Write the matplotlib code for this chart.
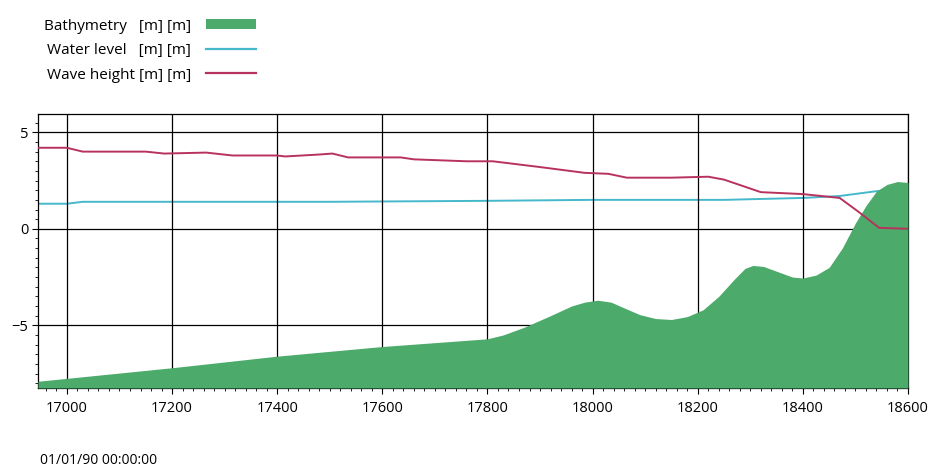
import matplotlib
matplotlib.use("Agg")
import matplotlib.pyplot as plt
from matplotlib.patches import Patch
from matplotlib.lines import Line2D
from matplotlib.ticker import MultipleLocator

plt.rcParams["font.family"] = ["Open Sans", "DejaVu Sans"]

# ── data ─────────────────────────────────────────────────────
bathy_x = [16945, 17000, 17200, 17400, 17600, 17800, 17830, 17870, 17920,
           17960, 17985, 18010, 18035, 18060, 18090, 18120, 18150, 18180,
           18210, 18240, 18270, 18290, 18305, 18325, 18350, 18380, 18400,
           18425, 18450, 18475, 18500, 18520, 18540, 18560, 18580, 18600]
bathy_z = [-7.9, -7.75, -7.2, -6.6, -6.1, -5.7, -5.5, -5.1, -4.5,
           -4.0, -3.8, -3.7, -3.8, -4.1, -4.45, -4.65, -4.7, -4.55,
           -4.2, -3.5, -2.6, -2.05, -1.9, -1.95, -2.2, -2.5, -2.55,
           -2.4, -2.0, -1.0, 0.3, 1.2, 1.95, 2.3, 2.45, 2.4]

water_x = [16945, 17000, 17030, 17500, 17800, 18000, 18250, 18400, 18470,
           18540, 18600]
water_z = [1.3, 1.3, 1.4, 1.4, 1.45, 1.5, 1.5, 1.6, 1.7, 1.95, 2.1]

wave_x = [16945, 17000, 17030, 17150, 17185, 17265, 17315, 17400, 17415,
          17480, 17505, 17535, 17635, 17660, 17760, 17810, 17900, 17985,
          18030, 18065, 18150, 18220, 18250, 18320, 18400, 18470, 18505,
          18545, 18600]
wave_h = [4.2, 4.2, 4.0, 4.0, 3.9, 3.95, 3.8, 3.8, 3.75,
          3.85, 3.9, 3.7, 3.7, 3.6, 3.5, 3.5, 3.2, 2.9,
          2.85, 2.65, 2.65, 2.7, 2.55, 1.9, 1.8, 1.6, 0.9,
          0.05, 0.0]

x_ticks = [17000, 17200, 17400, 17600, 17800, 18000, 18200, 18400, 18600]
y_ticks = [-5, 0, 5]
labels = ["Bathymetry   [m] [m]", "Water level   [m] [m]", "Wave height [m] [m]"]
time_stamp = "01/01/90 00:00:00"

GREEN = "#4caa6a"
CYAN = "#45b8cc"
RED = "#b8325e"

fig = plt.figure(figsize=(9.32, 4.69), dpi=100)
ax = fig.add_axes([38 / 932, 81 / 469, 870 / 932, 274 / 469])

ax.plot(water_x, water_z, color=CYAN, lw=1.4, zorder=2)
ax.fill_between(bathy_x, bathy_z, -8.25, color=GREEN, lw=0, zorder=3)
ax.plot(wave_x, wave_h, color=RED, lw=1.4, zorder=4)

ax.set_xlim(16945, 18600)
ax.set_ylim(-8.25, 5.95)
ax.set_xticks(x_ticks)
ax.set_yticks(y_ticks)
ax.xaxis.set_minor_locator(MultipleLocator(20))
ax.yaxis.set_minor_locator(MultipleLocator(0.5))
ax.grid(True, which="major", color="black", lw=0.9, zorder=5)
ax.set_axisbelow(False)
ax.tick_params(axis="both", which="major", length=4, width=0.8, labelsize=10.5, pad=3)
ax.tick_params(axis="x", which="major", pad=5)
ax.tick_params(axis="both", which="minor", length=2.5, width=0.6)
for sp in ax.spines.values():
    sp.set_color("black")
    sp.set_linewidth(0.9)

handles = [Patch(facecolor=GREEN, edgecolor="none"),
           Line2D([], [], color=CYAN, lw=1.6),
           Line2D([], [], color=RED, lw=1.6)]
fig.legend(handles, labels, loc="upper left", bbox_to_anchor=(36 / 932, 1 - 11 / 469),
           markerfirst=False, frameon=False, fontsize=11, handlelength=3.3,
           handleheight=0.6, labelspacing=0.62, handletextpad=1.0, borderpad=0)

fig.text(40 / 932, 1 - 460 / 469, time_stamp, fontsize=10, va="center", ha="left")

fig.savefig("out.png", dpi=100)
